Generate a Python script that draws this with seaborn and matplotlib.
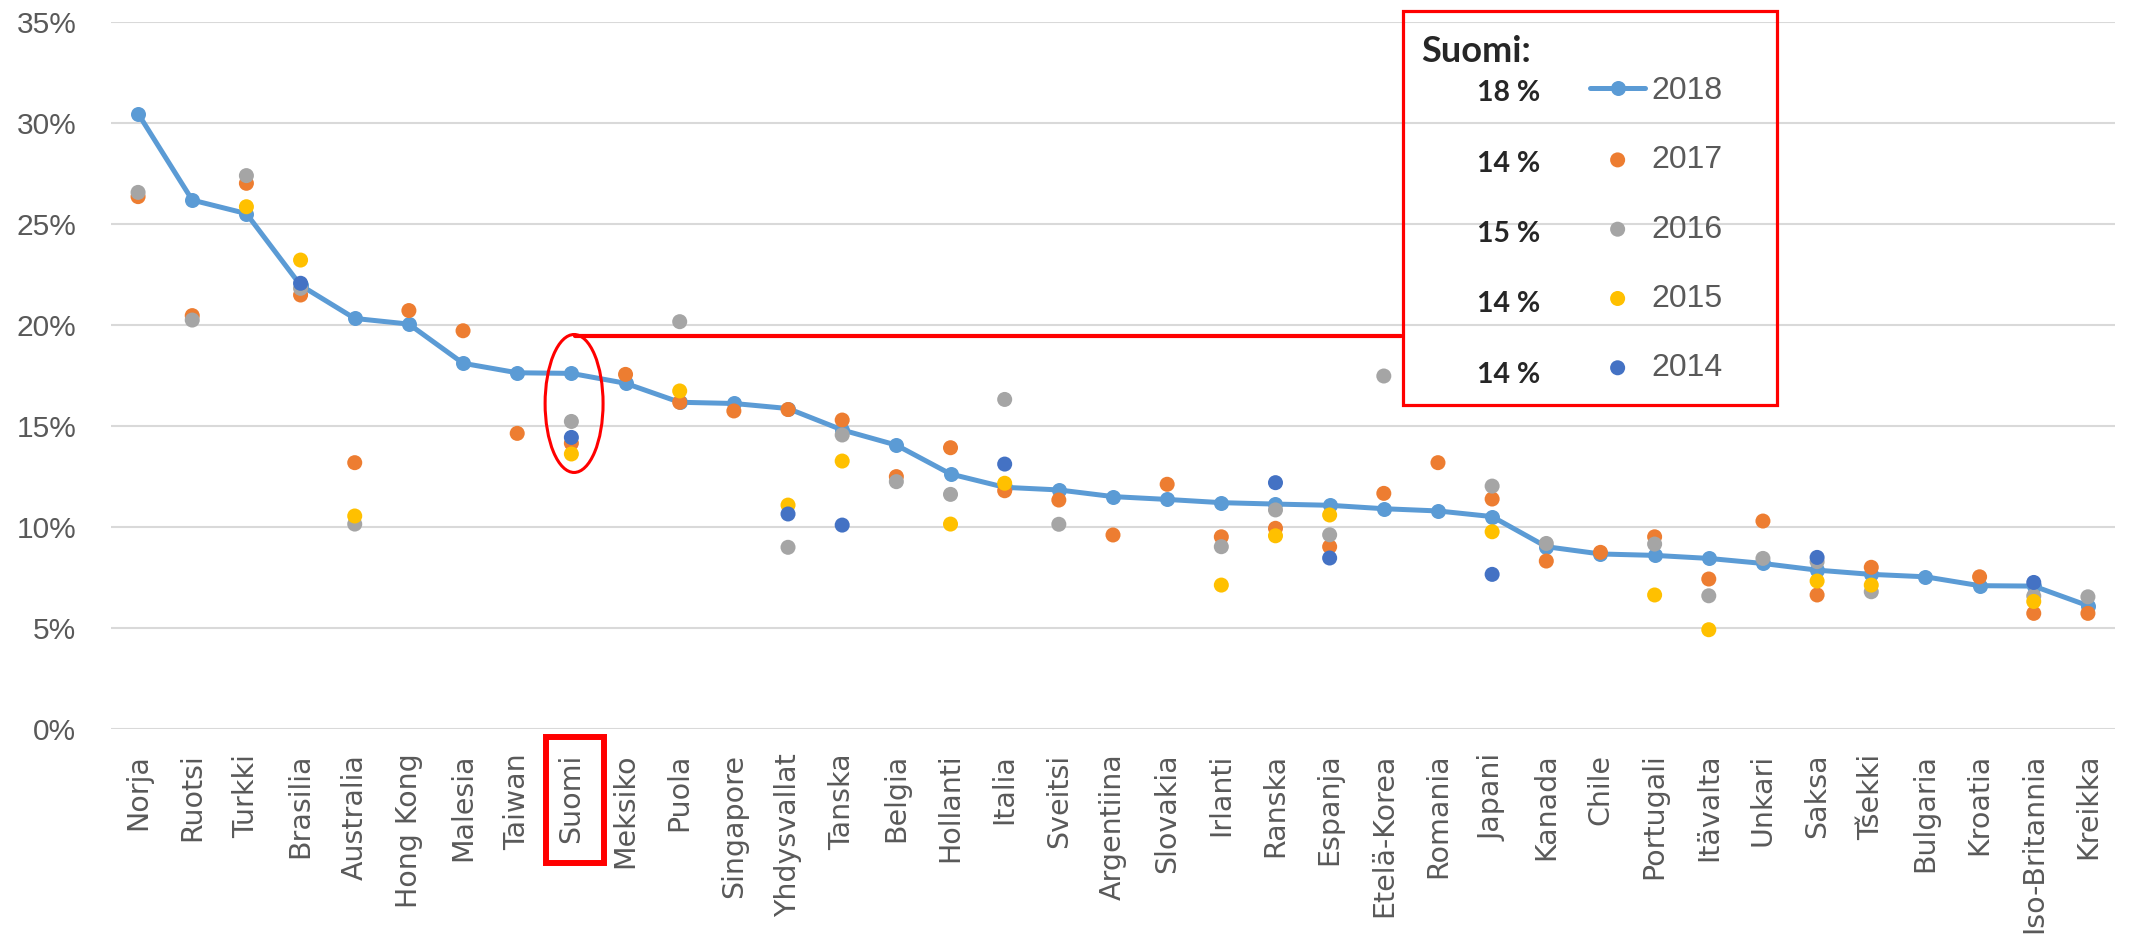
import numpy as np
import pandas as pd
import seaborn as sns
import matplotlib
matplotlib.use('Agg')
import matplotlib.pyplot as plt
from matplotlib.patches import Ellipse, Rectangle

sns.set_style('white')
plt.rcParams['font.family'] = ['Liberation Sans', 'DejaVu Sans']

nan = np.nan
countries = ['Norja', 'Ruotsi', 'Turkki', 'Brasilia', 'Australia', 'Hong Kong', 'Malesia',
             'Taiwan', 'Suomi', 'Meksiko', 'Puola', 'Singapore', 'Yhdysvallat', 'Tanska',
             'Belgia', 'Hollanti', 'Italia', 'Sveitsi', 'Argentiina', 'Slovakia', 'Irlanti',
             'Ranska', 'Espanja', 'Etelä-Korea', 'Romania', 'Japani', 'Kanada', 'Chile',
             'Portugali', 'Itävalta', 'Unkari', 'Saksa', 'Tšekki', 'Bulgaria', 'Kroatia',
             'Iso-Britannia', 'Kreikka']

y2018 = [30.45, 26.17, 25.5, 21.95, 20.31, 20.03, 18.09, 17.62, 17.59, 17.1, 16.16, 16.1,
         15.85, 14.79, 14.04, 12.61, 11.95, 11.82, 11.49, 11.35, 11.19, 11.12, 11.06, 10.89,
         10.78, 10.5, 9.01, 8.65, 8.58, 8.43, 8.18, 7.85, 7.64, 7.52, 7.08, 7.06, 6.09]
y2017 = [26.34, 20.45, 27.0, 21.47, 13.17, 20.7, 19.7, 14.62, 14.13, 17.54, 16.16, 15.73,
         15.8, 15.28, 12.48, 13.91, 11.78, 11.32, 9.59, 12.1, 9.5, 9.92, 9.01, 11.65,
         13.17, 11.37, 8.3, 8.73, 9.5, 7.41, 10.28, 6.62, 7.99, nan, 7.52, 5.71, 5.71]
y2016 = [26.55, 20.23, 27.38, 21.8, 10.13, nan, nan, nan, 15.21, nan, 20.15, nan,
         8.98, 14.54, 12.23, 11.6, 16.3, 10.12, nan, nan, 9.01, 10.83, 9.6, 17.46,
         nan, 12.01, 9.17, nan, 9.14, 6.58, 8.43, 8.27, 6.78, nan, nan, 6.57, 6.53]
y2015 = [nan, nan, 25.84, 23.2, 10.53, nan, nan, nan, 13.6, nan, 16.72, nan,
         11.07, 13.25, nan, 10.13, 12.15, nan, nan, nan, 7.11, 9.55, 10.58, nan,
         nan, 9.75, nan, nan, 6.62, 4.9, nan, 7.31, 7.11, nan, nan, 6.3, nan]
y2014 = [nan, nan, nan, 22.05, nan, nan, nan, nan, 14.42, nan, nan, nan,
         10.63, 10.08, nan, nan, 13.1, nan, nan, nan, nan, 12.18, 8.45, nan,
         nan, 7.64, nan, nan, nan, nan, nan, 8.48, nan, nan, nan, 7.24, nan]

years = ['2018', '2017', '2016', '2015', '2014']
colors = ['#5B9BD5', '#ED7D31', '#A5A5A5', '#FFC000', '#4472C4']
yticks = [0, 5, 10, 15, 20, 25, 30, 35]

df = pd.DataFrame({'maa': countries, '2018': y2018, '2017': y2017,
                   '2016': y2016, '2015': y2015, '2014': y2014})
df['idx'] = np.arange(len(df))

W, H = 2129, 944
fig = plt.figure(figsize=(W / 100, H / 100), dpi=100)
ax = fig.add_axes([111 / W, 1 - 728.7 / H, (2115 - 111) / W, (728.7 - 21.7) / H])

# 2018 line first, then the older years as dots on top
sns.lineplot(data=df, x='idx', y='2018', marker='o', markersize=10.8, markeredgewidth=0,
             linewidth=3.6, color=colors[0], label='2018', ax=ax, zorder=2)
for i, yr in enumerate(years[1:], start=1):
    sns.scatterplot(data=df, x='idx', y=yr, s=117, color=colors[i], edgecolor='none',
                    linewidth=0, label=yr, ax=ax, zorder=3 + i)

ax.set_xlim(-0.5, len(countries) - 0.5)
ax.set_ylim(0, 35)
ax.set_xticks(df['idx'])
ax.set_xticklabels(countries, rotation=90, family='DejaVu Sans', fontsize=20.5, color='#595959')
ax.set_yticks(yticks)
ax.set_yticklabels([f'{t}%' for t in yticks], fontsize=21.5, color='#595959')
ax.tick_params(axis='x', length=0, pad=18)
ax.tick_params(axis='y', length=0, pad=25)
ax.set_xlabel('')
ax.set_ylabel('')
ax.yaxis.grid(True, color='#D9D9D9', lw=1.5)
ax.set_axisbelow(True)
for s in ax.spines.values():
    s.set_visible(False)

# legend inside the red box
handles, labels = ax.get_legend_handles_labels()
fig.legend(handles, labels, loc='upper left', bbox_to_anchor=(1590 / W, 1 - 76 / H),
           frameon=False, fontsize=23, labelcolor='#595959', handlelength=1.73,
           handletextpad=0.2, labelspacing=1.23, borderpad=0, borderaxespad=0)
ax.get_legend().remove()

# red box + Suomi values
fig.patches.append(Rectangle((1402.5 / W, 1 - 405 / H), (1776.6 - 1402.5) / W, (405 - 11) / H,
                             transform=fig.transFigure, fill=False, ec='#FF0000', lw=2.3))
fig.text(1421 / W, 1 - 52 / H, 'Suomi:', family='Lato', weight='bold', fontsize=26,
         color='#262626', va='center', ha='left')
si = countries.index('Suomi')
for k, yr in enumerate(years):
    fig.text(1477 / W, 1 - (93 + 70.5 * k) / H, f'{df[yr][si]:.0f} %', family='Lato',
             weight='bold', fontsize=20.5, color='#262626', va='center', ha='left')

# ellipse around Suomi and the connector line
ax.add_patch(Ellipse((si + 0.05, 16.1), width=1.07, height=6.83, fill=False,
                     ec='#FF0000', lw=2.2, zorder=10))
x_box = (1402.5 - 138.5) / 54.2
ax.plot([si + 0.07, x_box], [19.45, 19.45], color='#FF0000', lw=3, zorder=10,
        clip_on=False)

# box around the Suomi tick label
ax.add_patch(Rectangle((si - 0.46, -0.19), 1.07, 0.178, transform=ax.get_xaxis_transform(),
                       fill=False, ec='#FF0000', lw=4.3, clip_on=False))

fig.savefig('out.png', dpi=100)
